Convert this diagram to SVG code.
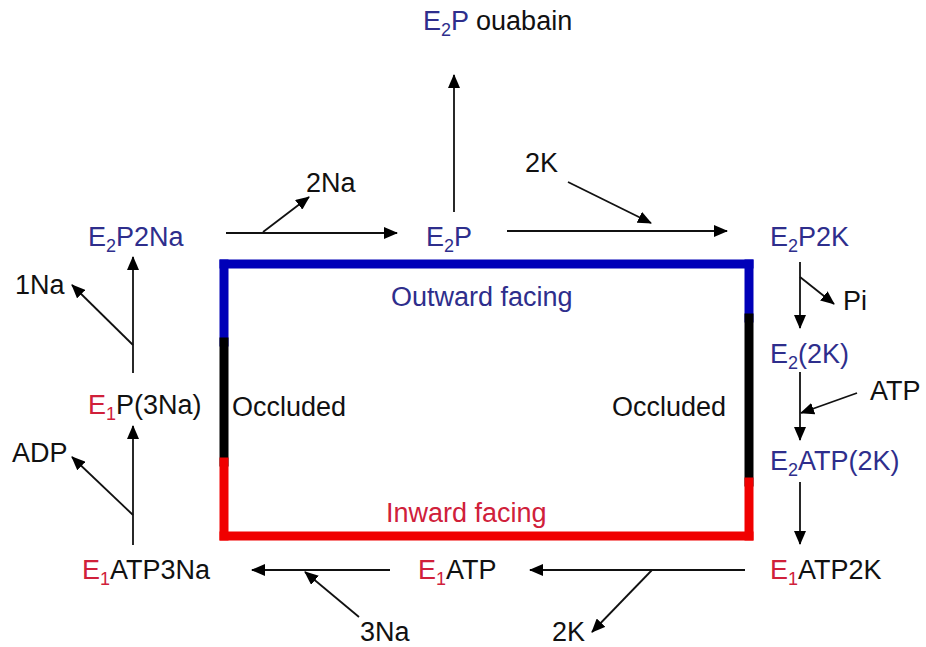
<svg xmlns="http://www.w3.org/2000/svg" width="926" height="647" viewBox="0 0 926 647">
<defs>
<marker id="ah" markerWidth="14" markerHeight="12" refX="13" refY="6" orient="auto" markerUnits="userSpaceOnUse">
<path d="M0,0 L14,6 L0,12 Z" fill="#000"/>
</marker>
<style>
text{font-family:"Liberation Sans",Arial,sans-serif;font-size:27px;fill:#111}
.b{fill:#2e2e8c}
.r{fill:#d0203a}
.s{font-size:18px}
.c{stroke:#111;stroke-width:1.8;fill:none;marker-end:url(#ah)}
.box{fill:none;stroke-width:9;stroke-linecap:square}
</style>
</defs>
<rect width="926" height="647" fill="#fff"/>
<g id="box">
<path class="box" d="M224,264 V342" stroke="#0000b8"/>
<path class="box" d="M224,342 V462" stroke="#000"/>
<path class="box" d="M224,462 V536" stroke="#f00000"/>
<path class="box" d="M224,264 H749" stroke="#0000b8"/>
<path class="box" d="M749,264 V318" stroke="#0000b8"/>
<path class="box" d="M749,318 V482" stroke="#000"/>
<path class="box" d="M749,482 V536" stroke="#f00000"/>
<path class="box" d="M224,536 H749" stroke="#f00000"/>
</g>
<g id="labels">
<text x="391" y="306" class="b">Outward facing</text>
<text x="232" y="416">Occluded</text>
<text x="612" y="416">Occluded</text>
<text x="386" y="522" class="r">Inward facing</text>
</g>
<g id="n-ouabain"><text x="423" y="30"><tspan class="b">E</tspan><tspan class="b s" dy="6">2</tspan><tspan class="b" dy="-6">P</tspan> ouabain</text></g>
<g id="n-e2p2na"><text x="88" y="246" class="b">E<tspan class="s" dy="6">2</tspan><tspan dy="-6">P2Na</tspan></text></g>
<g id="n-e2p"><text x="426" y="246" class="b">E<tspan class="s" dy="6">2</tspan><tspan dy="-6">P</tspan></text></g>
<g id="n-e2p2k"><text x="770" y="246" class="b">E<tspan class="s" dy="6">2</tspan><tspan dy="-6">P2K</tspan></text></g>
<g id="n-e22k"><text x="770" y="363" class="b">E<tspan class="s" dy="6">2</tspan><tspan dy="-6">(2K)</tspan></text></g>
<g id="n-e2atp2k"><text x="770" y="470" class="b">E<tspan class="s" dy="6">2</tspan><tspan dy="-6">ATP(2K)</tspan></text></g>
<g id="n-e1atp2k"><text x="770" y="579"><tspan class="r">E</tspan><tspan class="r s" dy="6">1</tspan><tspan dy="-6">ATP2K</tspan></text></g>
<g id="n-e1atp"><text x="418" y="579"><tspan class="r">E</tspan><tspan class="r s" dy="6">1</tspan><tspan dy="-6">ATP</tspan></text></g>
<g id="n-e1atp3na"><text x="82" y="579"><tspan class="r">E</tspan><tspan class="r s" dy="6">1</tspan><tspan dy="-6">ATP3Na</tspan></text></g>
<g id="n-e1p3na"><text x="88" y="414"><tspan class="r">E</tspan><tspan class="r s" dy="6">1</tspan><tspan dy="-6">P(3Na)</tspan></text></g>
<g id="n-2na"><text x="306" y="192">2Na</text></g>
<g id="n-2k-top"><text x="525" y="172">2K</text></g>
<g id="n-1na"><text x="15" y="294">1Na</text></g>
<g id="n-pi"><text x="843" y="310">Pi</text></g>
<g id="n-atp"><text x="870" y="400">ATP</text></g>
<g id="n-adp"><text x="12" y="462">ADP</text></g>
<g id="n-3na"><text x="360" y="641">3Na</text></g>
<g id="n-2k-bot"><text x="552" y="641">2K</text></g>
<g id="connectors">
<line class="c" x1="226" y1="233" x2="397" y2="233"/>
<line class="c" x1="263" y1="232" x2="309" y2="197"/>
<line class="c" x1="454" y1="212" x2="454" y2="75"/>
<line class="c" x1="507" y1="231" x2="727" y2="231"/>
<line class="c" x1="568" y1="182" x2="651" y2="223"/>
<line class="c" x1="800" y1="262" x2="800" y2="328"/>
<line class="c" x1="800" y1="277" x2="834" y2="304"/>
<line class="c" x1="800" y1="372" x2="800" y2="440"/>
<line class="c" x1="857" y1="393" x2="801" y2="413"/>
<line class="c" x1="800" y1="482" x2="800" y2="544"/>
<line class="c" x1="745" y1="570" x2="530" y2="570"/>
<line class="c" x1="652" y1="570" x2="592" y2="632"/>
<line class="c" x1="390" y1="570" x2="252" y2="570"/>
<line class="c" x1="359" y1="617" x2="305" y2="572"/>
<line class="c" x1="133" y1="545" x2="133" y2="426"/>
<line class="c" x1="133" y1="515" x2="72" y2="457"/>
<line class="c" x1="133" y1="373" x2="133" y2="257"/>
<line class="c" x1="133" y1="345" x2="72" y2="285"/>
</g>
</svg>
